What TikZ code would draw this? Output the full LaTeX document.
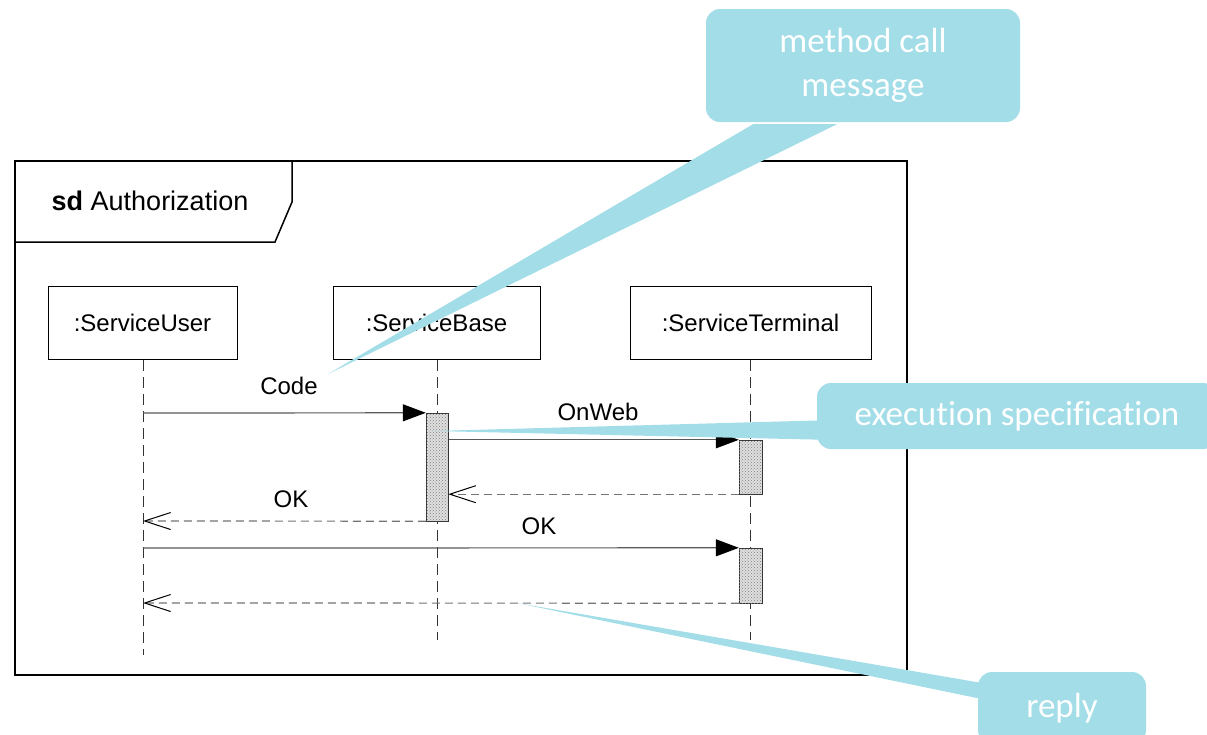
\documentclass[tikz,border=0pt]{standalone}
\usepackage{fontspec}
\setmainfont{Liberation Sans}
\newfontfamily\calloutfont[Ligatures={NoCommon,NoContextual},Contextuals=NoAlternate]{Carlito}
\usetikzlibrary{arrows.meta,patterns}
\definecolor{notefill}{RGB}{162,221,232}

\tikzset{
  lifehead/.style={draw, line width=1pt, minimum height=73pt, inner sep=0pt,
    font=\fontsize{24}{28}\selectfont},
  lifeline/.style={draw=black!80, line width=1pt, dash pattern=on 11pt off 6pt},
  actbox/.style={draw=black!80, line width=1pt, fill=gray!25,
    postaction={pattern=crosshatch dots, pattern color=gray},
    minimum width=22pt, inner sep=0pt},
  callmsg/.style={draw=black!65, line width=1.2pt,
    -{Triangle[length=23pt,width=17pt,black]}},
  retmsg/.style={draw=black!55, line width=1.2pt, dash pattern=on 8pt off 5pt,
    -{Straight Barb[length=26pt,width=17pt,black,line width=1pt]}},
  msglabel/.style={font=\fontsize{24}{28}\selectfont, inner sep=0pt},
  callout/.style={fill=notefill, rounded corners=14pt, text=white, align=center,
    inner sep=0pt, font=\calloutfont\fontsize{35}{44}\selectfont},
  pointer/.style={fill=notefill},
}

\begin{document}
\begin{tikzpicture}[x=1pt, y=-1pt]
\useasboundingbox (0,0) rectangle (1207,734);

% frame and its name tab
\node[draw, line width=1.5pt, minimum width=892pt, minimum height=514pt, inner sep=0pt]
  (frame) at (461,418) {};
\draw[line width=1.5pt] (15,242) -- (275,242) -- (292,202) -- (292,161);
\node[font=\fontsize{27}{32}\selectfont, inner sep=0pt] (title) at (150,201)
  {\textbf{sd} Authorization};

% lifeline heads
\node[lifehead, minimum width=189pt] (user) at (142.5,323) {:ServiceUser};
\node[lifehead, minimum width=207pt] (base) at (436.5,323) {:ServiceBase};
\node[lifehead, minimum width=241pt] (term) at (750.5,323) {:ServiceTerminal};

% lifeline ends
\coordinate (userEnd) at (143,655);
\coordinate (baseEnd) at (437,640);
\coordinate (termEnd) at (750,640);
\draw[lifeline] (user.south -| userEnd) -- (userEnd);
\draw[lifeline] (base.south -| baseEnd) -- (baseEnd);
\draw[lifeline] (term.south -| termEnd) -- (termEnd);

% execution specifications (placed as nodes, drawn after the messages)
\path (437,467) node[minimum height=108pt, minimum width=22pt, inner sep=0pt] (actA) {};
\path (750.5,467) node[minimum height=54pt, minimum width=23pt, inner sep=0pt] (actB) {};
\path (750.5,575.5) node[minimum height=55pt, minimum width=23pt, inner sep=0pt] (actC) {};

% messages
\coordinate (u1) at (143,413);
\coordinate (u2) at (143,521);
\coordinate (u3) at (143,548);
\coordinate (u4) at (143,603);
\draw[callmsg] (u1) -- (actA.north west);
\draw[callmsg] (actA.east |- actB.north) -- (actB.north west);
\draw[retmsg] (actB.south west) -- (actA.east |- actB.south);
\draw[retmsg] (actA.south west) -- (u2);
\draw[callmsg] (u3) -- (actC.north west);
\draw[retmsg] (actC.south west) -- (u4);

\node[actbox, minimum height=108pt, minimum width=22pt] at (actA) {};
\node[actbox, minimum height=54pt, minimum width=23pt] at (actB) {};
\node[actbox, minimum height=55pt, minimum width=23pt] at (actC) {};

% message labels
\node[msglabel] (codeLbl) at (289,386) {Code};
\node[msglabel] (onwebLbl) at (598,412) {OnWeb};
\node[msglabel] (okLblA) at (291,499) {OK};
\node[msglabel] (okLblB) at (539,526) {OK};

% annotation callouts
\node[callout, minimum width=314pt, minimum height=113pt] (noteCall) at (863,65.5)
  {method call\\message};
\node[callout, minimum width=400pt, minimum height=66pt] (noteExec) at (1017,416)
  {execution specification};
\node[callout, minimum width=168pt, minimum height=72pt] (noteReply) at (1062,708)
  {reply};

\coordinate (callTip) at (328,374);
\coordinate (execTip) at (433,431);
\coordinate (replyTip) at (517,603);

\fill[pointer] ([shift={(-110,2)}]noteCall.south) --
  ([shift={(-26,2)}]noteCall.south) -- (callTip) -- cycle;
\fill[pointer] (execTip) -- ([shift={(18,4)}]noteExec.west) --
  ([shift={(18,24)}]noteExec.west) -- cycle;
\fill[pointer] (replyTip) -- ([shift={(17,-59)}]noteReply.south west) --
  ([shift={(17,-42.5)}]noteReply.south west) -- cycle;
\end{tikzpicture}
\end{document}
